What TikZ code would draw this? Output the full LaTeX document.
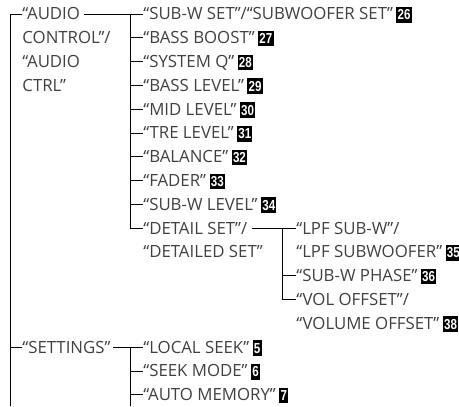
\documentclass[tikz,border=0pt]{standalone}
\usepackage{fontspec}
\setmainfont{Open Sans}
\newfontfamily\numfont{Liberation Sans}[FakeStretch=0.8]
\usetikzlibrary{positioning}

% black reference number box
\newcommand\refno[1]{\hspace{3.5pt}{\setlength\fboxsep{1.2pt}\colorbox{black}{\rule[-1.5pt]{0pt}{13.3pt}\textcolor{white}{\numfont\bfseries\fontsize{14.5}{14.5}\selectfont #1}}}}

\begin{document}
\begin{tikzpicture}[
    x=1pt, y=-23.8pt,
    line width=0.8pt,
    item/.style={anchor=west, inner sep=0pt, text height=14pt, text depth=2pt,
                 text=black!75, font=\fontsize{16.8}{18}\selectfont},
    link/.style={shorten <=4pt}
]
    \useasboundingbox (0,-0.588) rectangle (459,16.471);

    \def\xa{10}   % trunk
    \def\xb{130}  % audio control / settings
    \def\xc{282}  % detail set

    % first level
    \node[item] (audio) at (22,0) {“AUDIO};
    \node[item] (audioB) at (22,1) {CONTROL”/};
    \node[item] (audioC) at (22,2) {“AUDIO};
    \node[item] (audioD) at (22,3) {CTRL”};
    \node[item] (settings) at (22,14) {“SETTINGS”};

    % audio control items
    \node[item] (subwset) at (143,0) {“SUB-W SET”/“SUBWOOFER SET”\refno{26}};
    \node[item] (bassboost) at (143,1) {“BASS BOOST”\refno{27}};
    \node[item] (systemq) at (143,2) {“SYSTEM Q”\refno{28}};
    \node[item] (basslevel) at (143,3) {“BASS LEVEL”\refno{29}};
    \node[item] (midlevel) at (143,4) {“MID LEVEL”\refno{30}};
    \node[item] (trelevel) at (143,5) {“TRE LEVEL”\refno{31}};
    \node[item] (balance) at (143,6) {“BALANCE”\refno{32}};
    \node[item] (fader) at (143,7) {“FADER”\refno{33}};
    \node[item] (subwlevel) at (143,8) {“SUB-W LEVEL”\refno{34}};
    \node[item] (detail) at (143,9) {“DETAIL SET”/};
    \node[item] (detailB) at (143,10) {“DETAILED SET”};

    % detail set items
    \node[item] (lpf) at (296,9) {“LPF SUB-W”/};
    \node[item] (lpfB) at (296,10) {“LPF SUBWOOFER”\refno{35}};
    \node[item] (phase) at (296,11) {“SUB-W PHASE”\refno{36}};
    \node[item] (vol) at (296,12) {“VOL OFFSET”/};
    \node[item] (volB) at (296,13) {“VOLUME OFFSET”\refno{38}};

    % settings items
    \node[item] (localseek) at (143,14) {“LOCAL SEEK”\refno{5}};
    \node[item] (seekmode) at (143,15) {“SEEK MODE”\refno{6}};
    \node[item] (automemory) at (143,16) {“AUTO MEMORY”\refno{7}};

    % trunk
    \coordinate (lbot) at (\xa,16.471);
    \draw (audio.west) -| (lbot);
    \draw (settings.west) -- (settings.west -| lbot);

    % audio control branch
    \coordinate (ja) at (\xb,0);
    \draw[link] (audio.east) -- (subwset.west);
    \draw (ja) |- (detail.west);
    \foreach \n in {bassboost, systemq, basslevel, midlevel, trelevel, balance, fader, subwlevel}
        \draw (ja |- \n.west) -- (\n.west);

    % detail set branch
    \coordinate (jc) at (\xc,9);
    \draw[link] (detail.east) -- (lpf.west);
    \draw (jc) |- (vol.west);
    \draw (jc |- phase.west) -- (phase.west);

    % settings branch
    \coordinate (jb) at (\xb,14);
    \coordinate (mbot) at (\xb,16.471);
    \draw[shorten <=2pt] (settings.east) -- (localseek.west);
    \draw (jb) -- (mbot);
    \foreach \n in {seekmode, automemory}
        \draw (jb |- \n.west) -- (\n.west);
\end{tikzpicture}
\end{document}
